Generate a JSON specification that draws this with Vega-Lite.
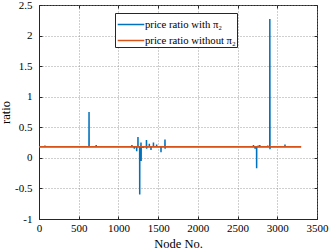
{
  "$schema": "https://vega.github.io/schema/vega-lite/v6.json",
  "width": 278,
  "height": 214,
  "autosize": "none",
  "padding": {"left": 39, "top": 5, "right": 15, "bottom": 32},
  "background": "white",
  "config": {
    "view": {"stroke": "#262626", "strokeWidth": 1},
    "axis": {
      "labelFont": "Liberation Serif",
      "titleFont": "Liberation Serif",
      "labelFontSize": 11,
      "titleFontSize": 12.5,
      "titleFontWeight": "normal",
      "labelColor": "#000",
      "titleColor": "#000",
      "domainColor": "#262626",
      "tickColor": "#262626",
      "tickSize": -3,
      "gridColor": "#888",
      "gridDash": [1, 2],
      "gridOpacity": 0.8
    },
    "legend": {
      "labelFont": "Liberation Serif",
      "labelFontSize": 10.7,
      "labelColor": "#000"
    }
  },
  "resolve": {"axis": {"x": "independent", "y": "independent"}},
  "data": {
    "values": [
      {"s": "price ratio with π₂", "x": 0, "y": 0.18},
      {"s": "price ratio with π₂", "x": 74, "y": 0.18},
      {"s": "price ratio with π₂", "x": 75, "y": 0.2},
      {"s": "price ratio with π₂", "x": 76, "y": 0.18},
      {"s": "price ratio with π₂", "x": 629, "y": 0.18},
      {"s": "price ratio with π₂", "x": 630, "y": 0.75},
      {"s": "price ratio with π₂", "x": 631, "y": 0.18},
      {"s": "price ratio with π₂", "x": 719, "y": 0.18},
      {"s": "price ratio with π₂", "x": 720, "y": 0.21},
      {"s": "price ratio with π₂", "x": 721, "y": 0.18},
      {"s": "price ratio with π₂", "x": 1169, "y": 0.18},
      {"s": "price ratio with π₂", "x": 1170, "y": 0.21},
      {"s": "price ratio with π₂", "x": 1171, "y": 0.18},
      {"s": "price ratio with π₂", "x": 1199, "y": 0.18},
      {"s": "price ratio with π₂", "x": 1200, "y": 0.15},
      {"s": "price ratio with π₂", "x": 1201, "y": 0.18},
      {"s": "price ratio with π₂", "x": 1229, "y": 0.18},
      {"s": "price ratio with π₂", "x": 1230, "y": 0.11},
      {"s": "price ratio with π₂", "x": 1231, "y": 0.18},
      {"s": "price ratio with π₂", "x": 1245, "y": 0.18},
      {"s": "price ratio with π₂", "x": 1246, "y": 0.34},
      {"s": "price ratio with π₂", "x": 1247, "y": 0.18},
      {"s": "price ratio with π₂", "x": 1267, "y": 0.18},
      {"s": "price ratio with π₂", "x": 1268, "y": -0.6},
      {"s": "price ratio with π₂", "x": 1269, "y": 0.18},
      {"s": "price ratio with π₂", "x": 1283, "y": 0.18},
      {"s": "price ratio with π₂", "x": 1284, "y": 0.25},
      {"s": "price ratio with π₂", "x": 1286, "y": -0.05},
      {"s": "price ratio with π₂", "x": 1287, "y": 0.18},
      {"s": "price ratio with π₂", "x": 1309, "y": 0.18},
      {"s": "price ratio with π₂", "x": 1310, "y": 0.16},
      {"s": "price ratio with π₂", "x": 1311, "y": 0.18},
      {"s": "price ratio with π₂", "x": 1352, "y": 0.18},
      {"s": "price ratio with π₂", "x": 1353, "y": 0.29},
      {"s": "price ratio with π₂", "x": 1355, "y": 0.15},
      {"s": "price ratio with π₂", "x": 1356, "y": 0.18},
      {"s": "price ratio with π₂", "x": 1388, "y": 0.18},
      {"s": "price ratio with π₂", "x": 1389, "y": 0.23},
      {"s": "price ratio with π₂", "x": 1390, "y": 0.18},
      {"s": "price ratio with π₂", "x": 1409, "y": 0.18},
      {"s": "price ratio with π₂", "x": 1410, "y": 0.13},
      {"s": "price ratio with π₂", "x": 1411, "y": 0.18},
      {"s": "price ratio with π₂", "x": 1440, "y": 0.18},
      {"s": "price ratio with π₂", "x": 1441, "y": 0.25},
      {"s": "price ratio with π₂", "x": 1442, "y": 0.18},
      {"s": "price ratio with π₂", "x": 1480, "y": 0.18},
      {"s": "price ratio with π₂", "x": 1481, "y": 0.22},
      {"s": "price ratio with π₂", "x": 1482, "y": 0.18},
      {"s": "price ratio with π₂", "x": 1535, "y": 0.18},
      {"s": "price ratio with π₂", "x": 1536, "y": 0.09},
      {"s": "price ratio with π₂", "x": 1537, "y": 0.18},
      {"s": "price ratio with π₂", "x": 1585, "y": 0.18},
      {"s": "price ratio with π₂", "x": 1586, "y": 0.3},
      {"s": "price ratio with π₂", "x": 1588, "y": 0.15},
      {"s": "price ratio with π₂", "x": 1589, "y": 0.18},
      {"s": "price ratio with π₂", "x": 2699, "y": 0.18},
      {"s": "price ratio with π₂", "x": 2700, "y": 0.21},
      {"s": "price ratio with π₂", "x": 2701, "y": 0.18},
      {"s": "price ratio with π₂", "x": 2719, "y": 0.18},
      {"s": "price ratio with π₂", "x": 2720, "y": 0.15},
      {"s": "price ratio with π₂", "x": 2721, "y": 0.18},
      {"s": "price ratio with π₂", "x": 2739, "y": 0.18},
      {"s": "price ratio with π₂", "x": 2740, "y": -0.17},
      {"s": "price ratio with π₂", "x": 2741, "y": 0.18},
      {"s": "price ratio with π₂", "x": 2759, "y": 0.18},
      {"s": "price ratio with π₂", "x": 2760, "y": 0.2},
      {"s": "price ratio with π₂", "x": 2761, "y": 0.18},
      {"s": "price ratio with π₂", "x": 2779, "y": 0.18},
      {"s": "price ratio with π₂", "x": 2780, "y": 0.21},
      {"s": "price ratio with π₂", "x": 2781, "y": 0.18},
      {"s": "price ratio with π₂", "x": 2879, "y": 0.18},
      {"s": "price ratio with π₂", "x": 2880, "y": 0.2},
      {"s": "price ratio with π₂", "x": 2881, "y": 0.18},
      {"s": "price ratio with π₂", "x": 2905, "y": 0.18},
      {"s": "price ratio with π₂", "x": 2906, "y": 2.27},
      {"s": "price ratio with π₂", "x": 2908, "y": 0.14},
      {"s": "price ratio with π₂", "x": 2909, "y": 0.18},
      {"s": "price ratio with π₂", "x": 3096, "y": 0.18},
      {"s": "price ratio with π₂", "x": 3097, "y": 0.22},
      {"s": "price ratio with π₂", "x": 3098, "y": 0.18},
      {"s": "price ratio with π₂", "x": 3300, "y": 0.18},
      {"s": "price ratio without π₂", "x": 0, "y": 0.18},
      {"s": "price ratio without π₂", "x": 3300, "y": 0.18}
    ]
  },
  "layer": [
    {
      "mark": {"type": "line", "strokeWidth": 1.5, "clip": true},
      "encoding": {
        "x": {
          "field": "x", "type": "quantitative",
          "scale": {"domain": [0, 3500], "nice": false},
          "axis": {"title": "Node No.", "values": [0, 500, 1000, 1500, 2000, 2500, 3000, 3500], "format": "d", "labelPadding": 6, "titlePadding": 4, "grid": true, "labelFlush": false}
        },
        "y": {
          "field": "y", "type": "quantitative",
          "scale": {"domain": [-1, 2.5], "nice": false, "zero": false},
          "axis": {"title": "ratio", "values": [-1, -0.5, 0, 0.5, 1, 1.5, 2, 2.5], "labelExpr": "datum.value + ''", "labelPadding": 10, "titlePadding": 2, "grid": true, "labelFlush": false}
        },
        "color": {
          "field": "s", "type": "nominal",
          "scale": {"domain": ["price ratio with π₂", "price ratio without π₂"], "range": ["#0072BD", "#D95319"]},
          "legend": {
            "title": null, "orient": "none", "legendX": 76, "legendY": 8,
            "symbolType": "M-1.4,0H1.4", "symbolSize": 361, "symbolStrokeWidth": 1.5,
            "symbolFillColor": "transparent", "symbolOffset": 4.5,
            "strokeColor": "#262626", "fillColor": "white", "padding": 1,
            "rowPadding": 0, "labelOffset": 3.5
          }
        }
      }
    },
    {
      "mark": {"type": "rule", "opacity": 0},
      "encoding": {
        "x": {"datum": 0, "type": "quantitative", "axis": {"orient": "top", "labels": false, "title": null, "grid": false, "domain": false, "values": [0, 500, 1000, 1500, 2000, 2500, 3000, 3500]}},
        "y": {"datum": 0, "type": "quantitative", "axis": {"orient": "right", "labels": false, "title": null, "grid": false, "domain": false, "values": [-1, -0.5, 0, 0.5, 1, 1.5, 2, 2.5]}}
      }
    }
  ]
}
